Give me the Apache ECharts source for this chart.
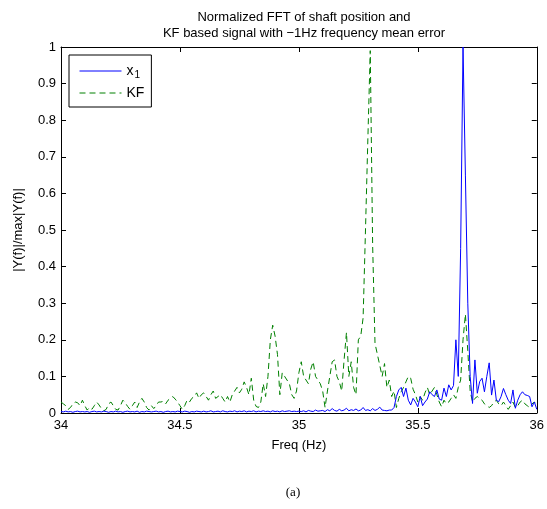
<!DOCTYPE html>
<html>
<head>
<meta charset="utf-8">
<script src="https://cdn.jsdelivr.net/npm/echarts@6/dist/echarts.min.js"></script>
<style>
  html, body { margin: 0; padding: 0; background: #fff; }
  #chart { width: 547px; height: 509px; }
</style>
</head>
<body>
<div id="chart"></div>
<script>
// FFT bins, 34 Hz .. 36 Hz
var freqStart = 34
var freqStep = 0.01

// x1 (shaft position), normalized
var x1Data = [
  0.004,0.003,0.005,0.003,0.004,0.002,0.004,0.005,0.003,0.004,
  0.003,0.004,0.002,0.004,0.005,0.003,0.004,0.003,0.005,0.004,
  0.002,0.004,0.003,0.005,0.003,0.004,0.002,0.004,0.005,0.003,
  0.004,0.003,0.005,0.002,0.004,0.003,0.005,0.004,0.003,0.004,
  0.005,0.003,0.004,0.002,0.004,0.005,0.003,0.004,0.003,0.005,
  0.004,0.003,0.005,0.004,0.002,0.004,0.003,0.005,0.004,0.003,
  0.005,0.003,0.004,0.006,0.003,0.004,0.005,0.003,0.006,0.004,
  0.003,0.005,0.004,0.006,0.003,0.005,0.004,0.006,0.003,0.005,
  0.004,0.006,0.003,0.005,0.004,0.006,0.004,0.005,0.003,0.006,
  0.004,0.005,0.003,0.006,0.004,0.005,0.006,0.004,0.005,0.004,
  0.005,0.004,0.006,0.003,0.007,0.005,0.004,0.008,0.005,0.006,
  0.007,0.004,0.009,0.006,0.012,0.007,0.005,0.01,0.006,0.008,
  0.013,0.006,0.009,0.007,0.011,0.006,0.008,0.015,0.007,0.009,
  0.006,0.012,0.007,0.01,0.016,0.008,0.007,0.006,0.008,0.008,
  0.015,0.045,0.063,0.07,0.045,0.068,0.035,0.022,0.04,0.03,
  0.017,0.045,0.02,0.03,0.038,0.058,0.05,0.045,0.063,0.038,
  0.035,0.068,0.045,0.077,0.063,0.075,0.2,0.1,0.45,1.0,
  0.65,0.3,0.1,0.026,0.145,0.054,0.086,0.095,0.058,0.1,
  0.137,0.049,0.09,0.035,0.031,0.045,0.067,0.05,0.035,0.026,
  0.063,0.013,0.035,0.05,0.058,0.05,0.048,0.045,0.017,0.03,
  0.01
]

// KF based signal, normalized
var kfData = [
  0.03,0.025,0.02,0.01,0.015,0.025,0.03,0.028,0.02,0.035,
  0.02,0.008,0.015,0.01,0.02,0.03,0.022,0.012,0.006,0.01,
  0.025,0.03,0.02,0.01,0.008,0.02,0.035,0.028,0.018,0.01,
  0.02,0.03,0.015,0.03,0.04,0.03,0.015,0.008,0.02,0.012,
  0.02,0.03,0.03,0.032,0.025,0.035,0.04,0.045,0.038,0.03,
  0.02,0.01,0.02,0.035,0.03,0.04,0.045,0.055,0.04,0.05,
  0.055,0.045,0.035,0.05,0.06,0.04,0.045,0.05,0.04,0.03,
  0.045,0.03,0.05,0.06,0.07,0.055,0.065,0.085,0.07,0.05,
  0.095,0.035,0.018,0.015,0.03,0.08,0.045,0.1,0.2,0.24,
  0.21,0.16,0.05,0.11,0.1,0.09,0.08,0.05,0.04,0.06,
  0.11,0.14,0.1,0.09,0.08,0.12,0.14,0.1,0.09,0.08,
  0.06,0.015,0.06,0.1,0.14,0.145,0.1,0.085,0.06,0.145,
  0.22,0.1,0.14,0.07,0.05,0.2,0.21,0.26,0.5,0.75,
  0.99,0.46,0.19,0.16,0.13,0.1,0.135,0.07,0.09,0.045,
  0.06,0.015,0.04,0.058,0.07,0.085,0.1,0.095,0.065,0.05,
  0.03,0.045,0.035,0.055,0.07,0.05,0.06,0.07,0.05,0.03,
  0.017,0.035,0.025,0.03,0.04,0.05,0.04,0.07,0.09,0.2,
  0.27,0.17,0.06,0.03,0.04,0.045,0.04,0.035,0.025,0.02,
  0.015,0.02,0.03,0.035,0.025,0.02,0.03,0.02,0.01,0.02,
  0.03,0.015,0.02,0.03,0.035,0.025,0.02,0.015,0.025,0.03,
  0.02
]

// tick labels
var xTicks = [34, 34.5, 35, 35.5, 36]
var yTicks = [0, 0.1, 0.2, 0.3, 0.4, 0.5, 0.6, 0.7, 0.8, 0.9, 1]

var FONT = 'Liberation Sans, Arial, Helvetica, sans-serif'

function toPairs(arr) {
  var out = []
  for (var i = 0; i < arr.length; i++) {
    out.push([+(freqStart + i * freqStep).toFixed(2), arr[i]])
  }
  return out
}

function axisBase() {
  return {
    type: 'value',
    axisLine: { show: true, onZero: false, lineStyle: { color: '#000', width: 1 } },
    axisTick: { show: true, inside: true, length: 5, lineStyle: { color: '#000' } },
    splitLine: { show: false }
  }
}

var xMin = xTicks[0], xMax = xTicks[xTicks.length - 1], xStep = 0.5
var yMin = yTicks[0], yMax = yTicks[yTicks.length - 1], yStep = 0.1

var xBottom = axisBase()
xBottom.min = xMin; xBottom.max = xMax; xBottom.interval = xStep
xBottom.position = 'bottom'
xBottom.name = 'Freq (Hz)'
xBottom.nameLocation = 'middle'
xBottom.nameGap = 26
xBottom.nameTextStyle = { fontFamily: FONT, fontSize: 13, color: '#000' }
xBottom.axisLabel = { fontFamily: FONT, fontSize: 13, color: '#000', margin: 6 }

var xTop = axisBase()
xTop.min = xMin; xTop.max = xMax; xTop.interval = xStep
xTop.position = 'top'
xTop.axisLabel = { show: false }

var yLeft = axisBase()
yLeft.min = yMin; yLeft.max = yMax; yLeft.interval = yStep
yLeft.position = 'left'
yLeft.name = '|Y(f)|/max|Y(f)|'
yLeft.nameLocation = 'middle'
yLeft.nameRotate = 90
yLeft.nameGap = 36
yLeft.nameTextStyle = { fontFamily: FONT, fontSize: 13, color: '#000' }
yLeft.axisLabel = { fontFamily: FONT, fontSize: 13, color: '#000', margin: 5 }

var yRight = axisBase()
yRight.min = yMin; yRight.max = yMax; yRight.interval = yStep
yRight.position = 'right'
yRight.axisLabel = { show: false }

var chart = echarts.init(document.getElementById('chart'))

var option = {
  backgroundColor: '#fff',
  animation: false,
  title: [{
    text: 'Normalized FFT of shaft position and\nKF based signal with \u22121Hz frequency mean error',
    left: 299,
    textAlign: 'center',
    top: 4,
    textStyle: { fontFamily: FONT, fontSize: 13, fontWeight: 'normal', color: '#000', lineHeight: 16 }
  }, {
    text: '(a)',
    left: 288,
    textAlign: 'center',
    top: 481,
    textStyle: { fontFamily: 'Liberation Serif, Times New Roman, serif', fontSize: 13, fontWeight: 'normal', color: '#000' }
  }],
  grid: { left: 61, right: 10, top: 47, bottom: 96 },
  legend: {
    show: true,
    left: 69,
    top: 55,
    orient: 'vertical',
    backgroundColor: '#fff',
    borderColor: '#000',
    borderWidth: 1,
    padding: [9, 7, 7, 10],
    itemGap: 6,
    itemWidth: 42,
    itemHeight: 14,
    itemStyle: { opacity: 0 },
    lineStyle: { width: 1 },
    textStyle: {
      fontFamily: FONT, fontSize: 14, color: '#000',
      rich: {
        sub: { fontFamily: FONT, fontSize: 10, color: '#000', padding: [8, 0, 0, 1] }
      }
    },
    formatter: function (name) {
      if (name === 'x1') return 'x{sub|1}'
      return name
    },
    data: ['x1', 'KF']
  },
  xAxis: [xBottom, xTop],
  yAxis: [yLeft, yRight],
  series: [{
    name: 'x1',
    type: 'line',
    data: toPairs(x1Data),
    showSymbol: false,
    symbol: 'none',
    lineStyle: { color: '#0000ff', width: 1 },
    itemStyle: { color: '#0000ff' },
    z: 3
  }, {
    name: 'KF',
    type: 'line',
    data: toPairs(kfData),
    showSymbol: false,
    symbol: 'none',
    lineStyle: { color: '#008000', width: 1, type: [6, 4] },
    itemStyle: { color: '#008000' },
    z: 2
  }]
}

chart.setOption(option)
</script>
</body>
</html>
